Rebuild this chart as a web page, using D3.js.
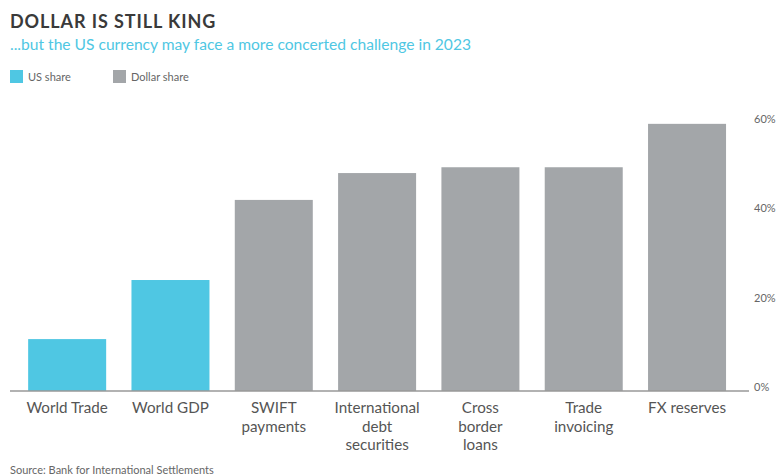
<!DOCTYPE html>
<html>
<head>
<meta charset="utf-8">
<script src="https://cdn.jsdelivr.net/npm/d3@7"></script>
<style>
  body { margin: 0; background: #fff; }
  svg { display: block; font-family: 'Lato', 'Open Sans', sans-serif; }
</style>
</head>
<body>
<div id="chart"></div>
<script>
// Data
var categories = [['World Trade'], ['World GDP'], ['SWIFT', 'payments'],
  ['International', 'debt', 'securities'], ['Cross', 'border', 'loans'],
  ['Trade', 'invoicing'], ['FX reserves']];
var values = [11.6, 24.8, 42.7, 48.7, 50.0, 50.0, 59.7];
var seriesOf = ['US share', 'US share', 'Dollar share', 'Dollar share', 'Dollar share', 'Dollar share', 'Dollar share'];
var legendLabels = ['US share', 'Dollar share'];
var yTicks = [0, 20, 40, 60];

var attrs = {
  svgWidth: 777,
  svgHeight: 475,
  baseline: 391,
  topY: 122.5,
  cyan: '#4FC7E3',
  grey: '#A3A6A9',
  textFill: '#555'
};

var svg = d3.select('#chart').append('svg')
  .attr('width', attrs.svgWidth)
  .attr('height', attrs.svgHeight);

// title block
svg.append('text')
  .attr('x', 10).attr('y', 28)
  .attr('font-size', 18).attr('font-weight', 700)
  .attr('letter-spacing', 0.9)
  .attr('fill', '#3a3a3a')
  .text('DOLLAR IS STILL KING');

svg.append('text')
  .attr('x', 10).attr('y', 50)
  .attr('font-size', 15.6)
  .attr('fill', attrs.cyan)
  .text('...but the US currency may face a more concerted challenge in 2023');

// legend
var color = d3.scaleOrdinal().domain(legendLabels).range([attrs.cyan, attrs.grey]);
var legend = svg.selectAll('.legend').data(legendLabels).enter().append('g')
  .attr('class', 'legend')
  .attr('transform', function (d, i) { return 'translate(' + (10 + i * 103) + ',70)'; });
legend.append('rect').attr('width', 13).attr('height', 13).attr('fill', function (d) { return color(d); });
legend.append('text').attr('x', 18).attr('y', 11)
  .attr('font-size', 11).attr('fill', '#666')
  .text(function (d) { return d; });

// scales
var x = d3.scaleBand()
  .domain(d3.range(values.length))
  .range([15.5, 738.7])
  .paddingInner(0.245)
  .paddingOuter(0.1225);

var y = d3.scaleLinear().domain([0, 60]).range([attrs.baseline, attrs.topY]);

// bars
svg.selectAll('.bar').data(values).enter().append('rect')
  .attr('class', 'bar')
  .attr('x', function (d, i) { return x(i); })
  .attr('width', x.bandwidth())
  .attr('y', function (d) { return y(d); })
  .attr('height', function (d) { return y(0) - y(d); })
  .attr('fill', function (d, i) { return color(seriesOf[i]); });

// baseline
svg.append('line')
  .attr('x1', 10).attr('x2', 749)
  .attr('y1', y(0)).attr('y2', y(0))
  .attr('stroke', '#999').attr('stroke-width', 1.5);

// y axis on the right
var yAxis = d3.axisRight(y).tickValues(yTicks).tickSize(0).tickPadding(0)
  .tickFormat(function (d) { return d + '%'; });
var yg = svg.append('g').attr('transform', 'translate(754,-4)').call(yAxis);
yg.select('.domain').remove();
yg.selectAll('text').attr('font-size', 11).attr('fill', '#666').attr('font-family', "'Lato', sans-serif");

// category labels
var labels = svg.selectAll('.cat').data(categories).enter().append('text')
  .attr('class', 'cat')
  .attr('text-anchor', 'middle')
  .attr('font-size', 15.2)
  .attr('fill', attrs.textFill)
  .attr('transform', function (d, i) { return 'translate(' + (x(i) + x.bandwidth() / 2) + ',413)'; });
labels.selectAll('tspan').data(function (d) { return d; }).enter().append('tspan')
  .attr('x', 0)
  .attr('y', function (d, i) { return i * 18.5; })
  .text(function (d) { return d; });

// source
svg.append('text')
  .attr('x', 10).attr('y', 474)
  .attr('font-size', 11).attr('fill', '#666')
  .text('Source: Bank for International Settlements');
</script>
</body>
</html>
